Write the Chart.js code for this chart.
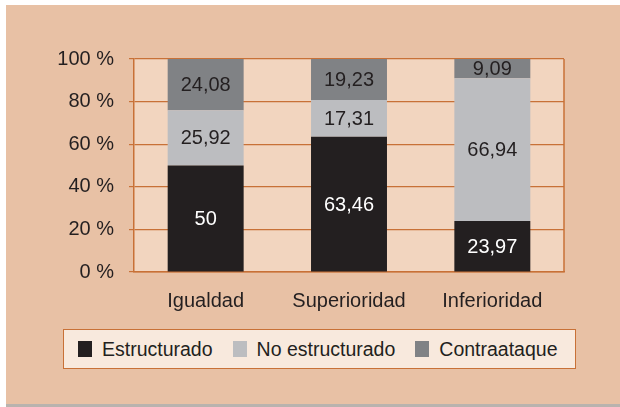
<!DOCTYPE html>
<html>
<head>
<meta charset="utf-8">
<script src="https://cdn.jsdelivr.net/npm/chart.js@4.4.1/dist/chart.umd.min.js"></script>
<style>
  html, body { margin: 0; padding: 0; background: #fff; }
  #frame {
    position: absolute; left: 6px; top: 5px; width: 614px; height: 399px;
    background: #e8c1a5; border-bottom: 3px solid #b9b3ae;
  }
  #chart { position: absolute; left: 0; top: 0; }
  #legend {
    position: absolute; left: 57px; top: 324px; width: 497px; height: 38px;
    background: #f8e9dd; border: 1px solid #c87137;
    display: flex; align-items: center; padding-left: 14px; box-sizing: content-box;
    font-family: "Liberation Sans", Arial, sans-serif; font-size: 19.5px; color: #231f20;
    white-space: nowrap;
  }
  #legend .item { display: flex; align-items: center; margin-right: 20px; flex: none; }
  #legend .sw { width: 14px; height: 16px; margin-right: 10px; }
</style>
</head>
<body>
<div id="frame">
  <canvas id="chart" width="614" height="399"></canvas>
  <div id="legend"></div>
</div>
<script>
// data
var categories = ["Igualdad", "Superioridad", "Inferioridad"];
var estructurado = [50, 63.46, 23.97];
var noEstructurado = [25.92, 17.31, 66.94];
var contraataque = [24.08, 19.23, 9.09];
var seriesNames = ["Estructurado", "No estructurado", "Contraataque"];
var seriesColors = ["#231f20", "#bcbdc0", "#808285"];
var labelColors = ["#ffffff", "#231f20", "#231f20"];
var yTicks = [0, 20, 40, 60, 80, 100];

var FONT = '"Liberation Sans", Arial, sans-serif';
var ORANGE = "#c87137";

// plot background + right border
var plotFrame = {
  id: "plotFrame",
  beforeDraw: function(chart) {
    var a = chart.chartArea, ctx = chart.ctx;
    ctx.save();
    ctx.fillStyle = "#f2d5bf";
    ctx.fillRect(a.left, a.top, a.right - a.left, a.bottom - a.top);
    ctx.restore();
  },
  afterDraw: function(chart) {
    var a = chart.chartArea, ctx = chart.ctx;
    ctx.save();
    ctx.strokeStyle = ORANGE;
    ctx.lineWidth = 1.5;
    ctx.beginPath();
    ctx.moveTo(a.right, a.top);
    ctx.lineTo(a.right, a.bottom);
    ctx.stroke();
    ctx.restore();
  }
};

// values written in the middle of each segment
var barValues = {
  id: "barValues",
  afterDatasetsDraw: function(chart) {
    var ctx = chart.ctx;
    ctx.save();
    ctx.font = "20px " + FONT;
    ctx.textAlign = "center";
    ctx.textBaseline = "middle";
    chart.data.datasets.forEach(function(ds, i) {
      chart.getDatasetMeta(i).data.forEach(function(bar, j) {
        var txt = String(ds.data[j]).replace(".", ",");
        ctx.fillStyle = labelColors[i];
        ctx.fillText(txt, bar.x, (bar.y + bar.base) / 2 + 1);
      });
    });
    ctx.restore();
  }
};

var datasets = [estructurado, noEstructurado, contraataque].map(function(vals, i) {
  return {
    label: seriesNames[i],
    data: vals,
    backgroundColor: seriesColors[i],
    borderWidth: 0,
    categoryPercentage: 1,
    barPercentage: 0.53
  };
});

var chart = new Chart(document.getElementById("chart"), {
  type: "bar",
  data: { labels: categories, datasets: datasets },
  options: {
    responsive: false,
    animation: false,
    layout: { padding: { top: 54, right: 56, left: 0, bottom: 0 } },
    plugins: { legend: { display: false }, tooltip: { enabled: false } },
    scales: {
      x: {
        stacked: true,
        grid: { display: false },
        border: { display: true, color: ORANGE, width: 1.5 },
        ticks: { color: "#231f20", font: { family: FONT, size: 20 }, padding: 9 },
        afterFit: function(s) { s.height = 132; }
      },
      y: {
        stacked: true,
        min: 0, max: 100,
        afterBuildTicks: function(s) { s.ticks = yTicks.map(function(v) { return { value: v }; }); },
        grid: { color: ORANGE, lineWidth: 1.2, tickLength: 5 },
        border: { display: true, color: ORANGE, width: 1.5 },
        ticks: {
          color: "#231f20", font: { family: FONT, size: 20 }, padding: 15,
          callback: function(v) { return v + " %"; }
        },
        afterFit: function(s) { s.width = 128; }
      }
    }
  },
  plugins: [plotFrame, barValues]
});

// legend built from the chart datasets
var legend = document.getElementById("legend");
chart.data.datasets.forEach(function(ds) {
  var item = document.createElement("div");
  item.className = "item";
  var sw = document.createElement("span");
  sw.className = "sw";
  sw.style.background = ds.backgroundColor;
  var t = document.createElement("span");
  t.textContent = ds.label;
  item.appendChild(sw);
  item.appendChild(t);
  legend.appendChild(item);
});
</script>
</body>
</html>
